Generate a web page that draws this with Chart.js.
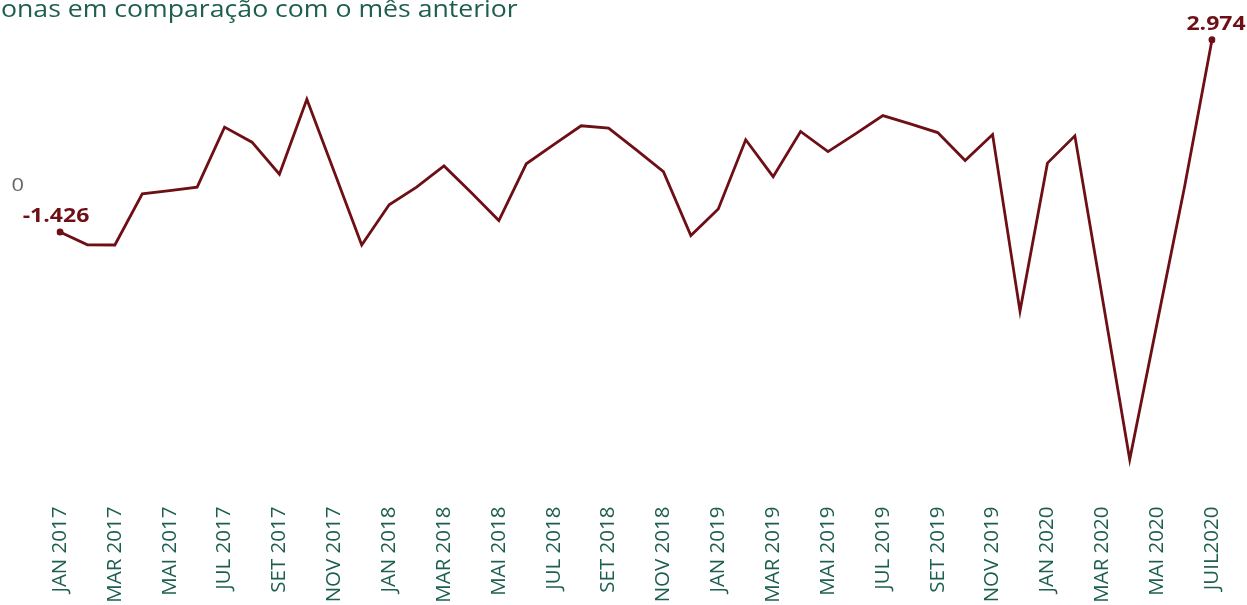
<!DOCTYPE html>
<html>
<head>
<meta charset="utf-8">
<script src="https://cdn.jsdelivr.net/npm/chart.js@4.4.1/dist/chart.umd.min.js"></script>
<style>
  html, body { margin: 0; padding: 0; background: #ffffff; overflow: hidden; }
  #wrap { position: relative; width: 1247px; height: 650px; }
</style>
</head>
<body>
<div id="wrap"><canvas id="c"></canvas></div>
<script>
// ---- data ----
const titleText = "onas em comparação com o mês anterior";
const months = [
  "JAN 2017","FEV 2017","MAR 2017","ABR 2017","MAI 2017","JUN 2017","JUL 2017","AGO 2017","SET 2017","OUT 2017","NOV 2017","DEZ 2017",
  "JAN 2018","FEV 2018","MAR 2018","ABR 2018","MAI 2018","JUN 2018","JUL 2018","AGO 2018","SET 2018","OUT 2018","NOV 2018","DEZ 2018",
  "JAN 2019","FEV 2019","MAR 2019","ABR 2019","MAI 2019","JUN 2019","JUL 2019","AGO 2019","SET 2019","OUT 2019","NOV 2019","DEZ 2019",
  "JAN 2020","FEV 2020","MAR 2020","ABR 2020","MAI 2020","JUN 2020","JUIL2020"
];
const values = [
  -1426, -1720, -1725, -555, -480, -400, 975, 630, -105, 1615, -55, -1725,
  -805, -400, 85, -530, -1165, 135, 575, 1005, 950, 460, -45, -1510,
  -900, 685, -160, 875, 415, 820, 1240, 1050, 850, 210, 805, -3240,
  150, 775, -2930, -6640, -3510, -390, 2974
];
const yTicks = [0];
const labelledIdx = [0, values.length - 1];

// ---- styles ----
const RED = "#6e0f16";
const GREEN = "#1d5e4f";
const FONT = "'Open Sans', 'Noto Sans', sans-serif";

function fmt(v) {
  const s = Math.abs(Math.round(v)).toString().replace(/\B(?=(\d{3})+(?!\d))/g, ".");
  return (v < 0 ? "-" : "") + s;
}

// draw text slightly widened horizontally, as in the reference image
function drawText(ctx, text, x, y, font, color, align, sx) {
  ctx.save();
  ctx.font = font;
  ctx.fillStyle = color;
  ctx.textAlign = align;
  ctx.textBaseline = "alphabetic";
  ctx.translate(x, y);
  ctx.scale(sx, 1);
  ctx.fillText(text, 0, 0);
  ctx.restore();
}

const textPlugin = {
  id: "texts",
  afterDatasetsDraw(chart) {
    const ctx = chart.ctx;
    // title (cropped in the reference)
    drawText(ctx, titleText, 1, 17, "24px " + FONT, GREEN, "left", 1.11);
    // y axis tick labels
    const ys = chart.scales.y;
    yTicks.forEach(v => {
      drawText(ctx, fmt(v), 24, ys.getPixelForValue(v) + 21, "19px " + FONT, "#666666", "right", 1.15);
    });
    // value labels on first and last point
    const meta = chart.getDatasetMeta(0);
    labelledIdx.forEach((i, k) => {
      const p = meta.data[i];
      const dx = k === 0 ? -4 : 4;
      drawText(ctx, fmt(values[i]), p.x + dx, p.y - 10, "bold 20px " + FONT, RED, "center", 1.15);
    });
  }
};

new Chart(document.getElementById("c"), {
  type: "line",
  data: {
    labels: months,
    datasets: [{
      data: values,
      borderColor: RED,
      backgroundColor: RED,
      borderWidth: 2.8,
      tension: 0,
      pointRadius: ctx => labelledIdx.includes(ctx.dataIndex) ? 3.5 : 0,
      pointHoverRadius: 0,
      pointBorderWidth: 0,
      fill: false
    }]
  },
  options: {
    responsive: true,
    maintainAspectRatio: false,
    animation: false,
    events: [],
    layout: { padding: { top: 30, right: 35, left: 60, bottom: 0 } },
    plugins: { legend: { display: false }, tooltip: { enabled: false }, title: { display: false } },
    scales: {
      x: {
        type: "category",
        offset: false,
        grid: { display: false, drawTicks: false },
        border: { display: false },
        ticks: {
          autoSkip: false,
          minRotation: 90,
          maxRotation: 90,
          padding: 16,
          color: GREEN,
          font: { family: FONT, size: 20.5 },
          callback: function(val, i) { return i % 2 === 0 ? months[i] : ""; }
        },
        afterFit: s => { s.height = 159.5; s.paddingLeft = 0; s.paddingRight = 0; }
      },
      y: {
        display: false,
        min: -7350,
        max: 3200
      }
    }
  },
  plugins: [textPlugin]
});
</script>
</body>
</html>
